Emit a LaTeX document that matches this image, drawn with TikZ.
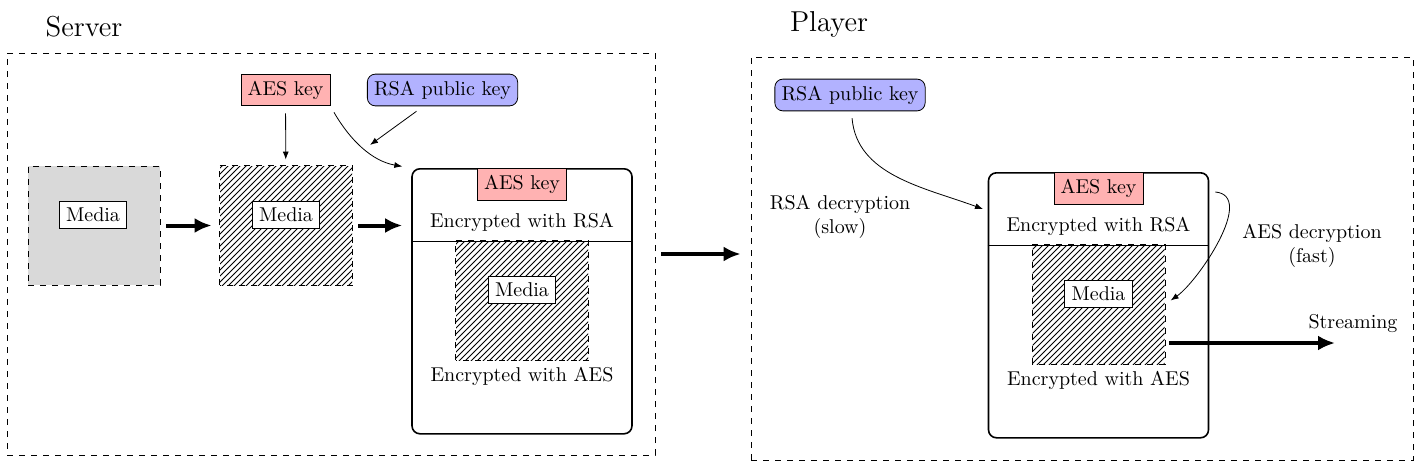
\documentclass[tikz,border=0pt]{standalone}
\usetikzlibrary{arrows.meta,patterns}
\tikzset{
  keybox/.style={draw,fill=red!30},
  pubkey/.style={draw,fill=blue!30,rounded corners=4pt},
  medialabel/.style={draw,fill=white},
  mediabox/.style={minimum width=66pt,minimum height=59.5pt},
  hatchbox/.style={mediabox,pattern=north east lines},
  framebox/.style={draw,dashed,inner sep=0pt},
  bigbox/.style={draw,thick,rounded corners=4pt,minimum width=110pt,minimum height=132.5pt},
  flow/.style={line width=2pt,-{Latex[length=8.5pt,width=7.5pt]}},
  link/.style={-{Latex[length=4pt,width=3pt]}},
}
\begin{document}
\begin{tikzpicture}[x=0.5pt,y=-0.5pt]
 		\useasboundingbox (0,0) rectangle (1420,466);
 		% titles and frames
 		\node[font=\Large] (titleS) at (84,27) {Server};
 		\node[font=\Large] (titleP) at (829,24) {Player};
 		\node[framebox,minimum width=324pt,minimum height=201pt] (server) at (331,254) {};
 		\node[framebox,minimum width=331pt,minimum height=201.5pt] (player) at (1082,258.5) {};
 		% server side
 		\node[mediabox,draw,dashed,fill=gray!30] (plain) at (94,225.5) {};
 		\node[medialabel] (plainM) at (93,215) {Media};
 		\node[hatchbox] (enc) at (286,225.5) {};
 		\draw[dashed] (enc.south west) rectangle (enc.north east);
 		\node[medialabel] (encM) at (286,215) {Media};
 		\node[keybox] (aesS) at (285.5,90) {AES key};
 		\node[pubkey] (rsaS) at (442.5,90) {RSA public key};
 		% the two encrypted packages
 		\foreach \p/\cx/\ty in {S/522/168, P/1098.5/172}
 				{\node[bigbox,anchor=north] (big\p) at (\cx,\ty) {};
 				\node[keybox,anchor=north] (key\p) at (\cx,\ty) {AES key};
 				\node (rsaT\p) at (\cx,\ty+54) {Encrypted with RSA};
 				\draw ([yshift=-36.5pt]big\p.north west) -- ([yshift=-36.5pt]big\p.north east);
 				\node[hatchbox] (hatch\p) at (\cx,\ty+132.5) {};
 				\draw[dashed] (hatch\p.south west) rectangle (hatch\p.north east);
 				\node[medialabel] (media\p) at (\cx,\ty+122) {Media};
 				\node (aesT\p) at (\cx,\ty+208) {Encrypted with AES};}
 		\draw[flow,shorten <=3pt,shorten >=4pt] (plain) -- (enc);
 		\draw[flow,shorten <=3pt,shorten >=4.5pt] (enc) -- (bigS.west |- enc);
 		\draw[link,shorten <=3.5pt,shorten >=3pt] (aesS) -- (enc);
 		\draw[link,shorten <=3.5pt,shorten >=4.5pt] (aesS.south east) to[out=-60,in=170] (bigS.north west);
 		\coordinate (rsaEnd) at (370,145);
 		\draw[link] ([xshift=-13pt,yshift=-2.5pt]rsaS.south) -- (rsaEnd);
 		\draw[flow,shorten <=3pt,shorten >=5pt] (server) -- (player.west |- server);
 		% player side
 		\node[pubkey] (rsaP) at (850,95) {RSA public key};
 		\coordinate (rsaIn) at (983,209);
 		\draw[link,shorten <=3.5pt] (rsaP) to[out=-85,in=160] (rsaIn);
 		\node[align=center] (rsaDec) at (840,217) {RSA decryption\\(slow)};
 		\draw[link,shorten >=3.5pt] ([xshift=3pt,yshift=-10pt]bigP.north east) to[out=-5,in=35,looseness=0.85] (hatchP.east);
 		\node[align=center] (aesDec) at (1312,246) {AES decryption\\(fast)};
 		\coordinate (streamEnd) at (1335,343);
 		\draw[flow,shorten <=2pt] (hatchP.east |- streamEnd) -- (streamEnd);
 		\node (stream) at (1353,324) {Streaming};
\end{tikzpicture}
\end{document}
